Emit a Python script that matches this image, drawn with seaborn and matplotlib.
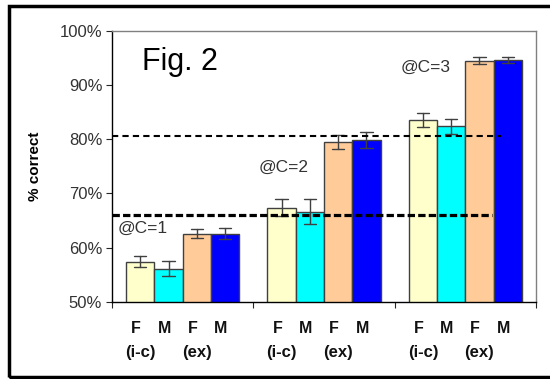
import pandas as pd
import numpy as np
import seaborn as sns
import matplotlib
matplotlib.use('Agg')
import matplotlib.pyplot as plt
from matplotlib.patches import Rectangle
from matplotlib.ticker import FuncFormatter
import matplotlib.transforms as mtransforms

# data (% correct)
groups = ['C=1', 'C=2', 'C=3']
conds = ['F (i-c)', 'M (i-c)', 'F (ex)', 'M (ex)']
means = {
    'F (i-c)': [57.4, 67.4, 83.6],
    'M (i-c)': [56.1, 66.6, 82.4],
    'F (ex)':  [62.6, 79.5, 94.5],
    'M (ex)':  [62.6, 79.9, 94.6],
}
errs = {
    'F (i-c)': [1.0, 1.6, 1.3],
    'M (i-c)': [1.4, 2.3, 1.35],
    'F (ex)':  [0.8, 1.35, 0.7],
    'M (ex)':  [0.95, 1.5, 0.6],
}
bar_labels = ['F', 'M', 'F', 'M']
sub_labels = ['(i-c)', '', '(ex)', '']
colors = ['#FFFFCC', '#00FFFF', '#FFCC99', '#0000FF']
thresholds = [80.6, 66.0]
annots = ['@C=1', '@C=2', '@C=3']

# long form, two rows per bar (mean -/+ err) so seaborn draws the error bars
rows = []
for c in conds:
    for g, m, e in zip(groups, means[c], errs[c]):
        rows.append({'group': g, 'cond': c, 'value': m - e})
        rows.append({'group': g, 'cond': c, 'value': m + e})
df = pd.DataFrame(rows)

sns.set_theme(style='white')
plt.rcParams['font.family'] = ['Liberation Sans', 'DejaVu Sans']

fig = plt.figure(figsize=(5.5, 3.79), dpi=100)
ax = fig.add_axes([0.2036, 0.2032, 0.7709, 0.7158])

sns.barplot(data=df, x='group', y='value', hue='cond', order=groups,
            hue_order=conds, palette=colors, estimator='mean',
            errorbar=lambda v: (v.min(), v.max()), capsize=0.35,
            err_kws={'color': '#404040', 'linewidth': 1},
            edgecolor='#404040', linewidth=1, saturation=1,
            legend=False, ax=ax)

ax.set_ylim(50, 100)
ax.set_yticks(np.arange(50, 101, 10))
ax.yaxis.set_major_formatter(FuncFormatter(lambda v, p: '%d%%' % v))
ax.set_xlim(-0.5, 2.5)
ax.set_xticks([-0.5, 0.5, 1.5, 2.5])
ax.set_xticklabels([])
ax.set_xlabel('')
ax.set_ylabel('% correct', fontsize=11, fontweight='bold', color='black', labelpad=12.5)
ax.tick_params(axis='y', labelsize=12, labelcolor='#333333', length=4,
               width=0.8, direction='out', left=True, pad=3)
ax.tick_params(axis='x', length=4, width=0.8, direction='out', bottom=True)

for s in ['left', 'bottom']:
    ax.spines[s].set_color('black')
    ax.spines[s].set_linewidth(1)
for s in ['top', 'right']:
    ax.spines[s].set_color('#808080')
    ax.spines[s].set_linewidth(1)

# reference lines
ax.axhline(thresholds[0], xmin=0, xmax=0.917, color='black', lw=1.5,
           linestyle=(0, (3, 2)), zorder=5)
ax.axhline(thresholds[1], xmin=0, xmax=0.896, color='black', lw=2.3,
           linestyle=(0, (2.3, 1)), zorder=5)

# labels under bars
trans = mtransforms.blended_transform_factory(ax.transData, ax.transAxes)
for i, cont in enumerate(ax.containers):
    for p in cont.patches:
        xc = p.get_x() + p.get_width() / 2
        ax.text(xc - 0.03, -0.096, bar_labels[i], transform=trans, ha='center',
                va='center', fontsize=11.5, fontweight='bold', color='#111111')
        if sub_labels[i]:
            ax.text(xc, -0.188, sub_labels[i], transform=trans, ha='center',
                    va='center', fontsize=12, fontweight='bold', color='#111111')

ax.text(-0.29, 94.2, 'Fig. 2', fontsize=22, ha='left', va='center', color='black')
for (x, y), t in zip([(-0.458, 63.6), (0.54, 74.9), (1.545, 93.3)], annots):
    ax.text(x, y, t, fontsize=12.5, ha='left', va='center', color='#333333')

# outer frame
fig.patches.append(Rectangle((0.0164, 0.005), 1.1, 0.979, fill=False,
                             edgecolor='black', lw=2.5,
                             transform=fig.transFigure, clip_on=False))

fig.savefig('out.png', dpi=100, facecolor='white')
